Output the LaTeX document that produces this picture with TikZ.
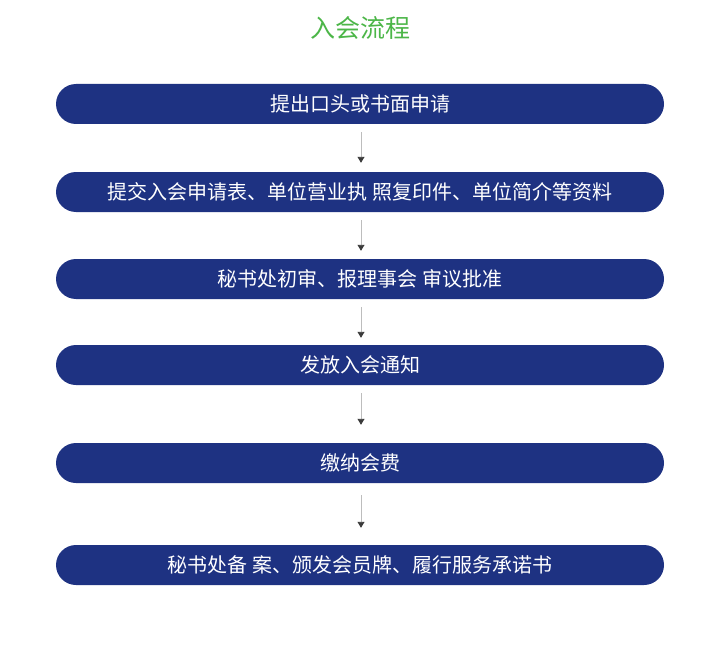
\documentclass[tikz,border=0pt]{standalone}
\usepackage{fontspec}
\newfontfamily\cjk{Noto Sans CJK SC}
\usetikzlibrary{arrows.meta}
\definecolor{boxblue}{HTML}{1E3282}
\definecolor{titlegreen}{HTML}{4CB648}
\definecolor{linegray}{HTML}{BDBDBD}
\definecolor{tipgray}{HTML}{3A3A3A}
\tikzset{
  stepbox/.style={fill=boxblue, draw=none, rounded corners=20pt, minimum width=608pt, minimum height=40pt, text=white, font=\cjk\fontsize{20pt}{22pt}\selectfont, inner sep=0pt},
  flowarrow/.style={draw=linegray, line width=0.9pt, -{Triangle[width=7pt,length=6pt,color=tipgray]}}
}
\begin{document}
\begin{tikzpicture}[x=1pt,y=-1pt]
\useasboundingbox (0,0) rectangle (720,650);
\node[text=titlegreen, font=\cjk\fontsize{25pt}{27pt}\selectfont] (title) at (360,28) {入会流程};
\node[stepbox] (s1) at (360,104) {提出口头或书面申请};
\node[stepbox] (s2) at (360,192) {提交入会申请表、单位营业执 照复印件、单位简介等资料};
\node[stepbox] (s3) at (360,279) {秘书处初审、报理事会 审议批准};
\node[stepbox] (s4) at (360,365) {发放入会通知};
\node[stepbox] (s5) at (360,463) {缴纳会费};
\node[stepbox] (s6) at (360,565) {秘书处备 案、颁发会员牌、履行服务承诺书};
\draw[flowarrow, shorten <=8pt, shorten >=9pt] ([xshift=1pt]s1.south) -- ([xshift=1pt]s2.north);
\draw[flowarrow, shorten <=8pt, shorten >=8pt] ([xshift=1pt]s2.south) -- ([xshift=1pt]s3.north);
\draw[flowarrow, shorten <=8pt, shorten >=7pt] ([xshift=1pt]s3.south) -- ([xshift=1pt]s4.north);
\draw[flowarrow, shorten <=8pt, shorten >=18pt] ([xshift=1pt]s4.south) -- ([xshift=1pt]s5.north);
\draw[flowarrow, shorten <=12pt, shorten >=17pt] ([xshift=1pt]s5.south) -- ([xshift=1pt]s6.north);
\end{tikzpicture}
\end{document}
